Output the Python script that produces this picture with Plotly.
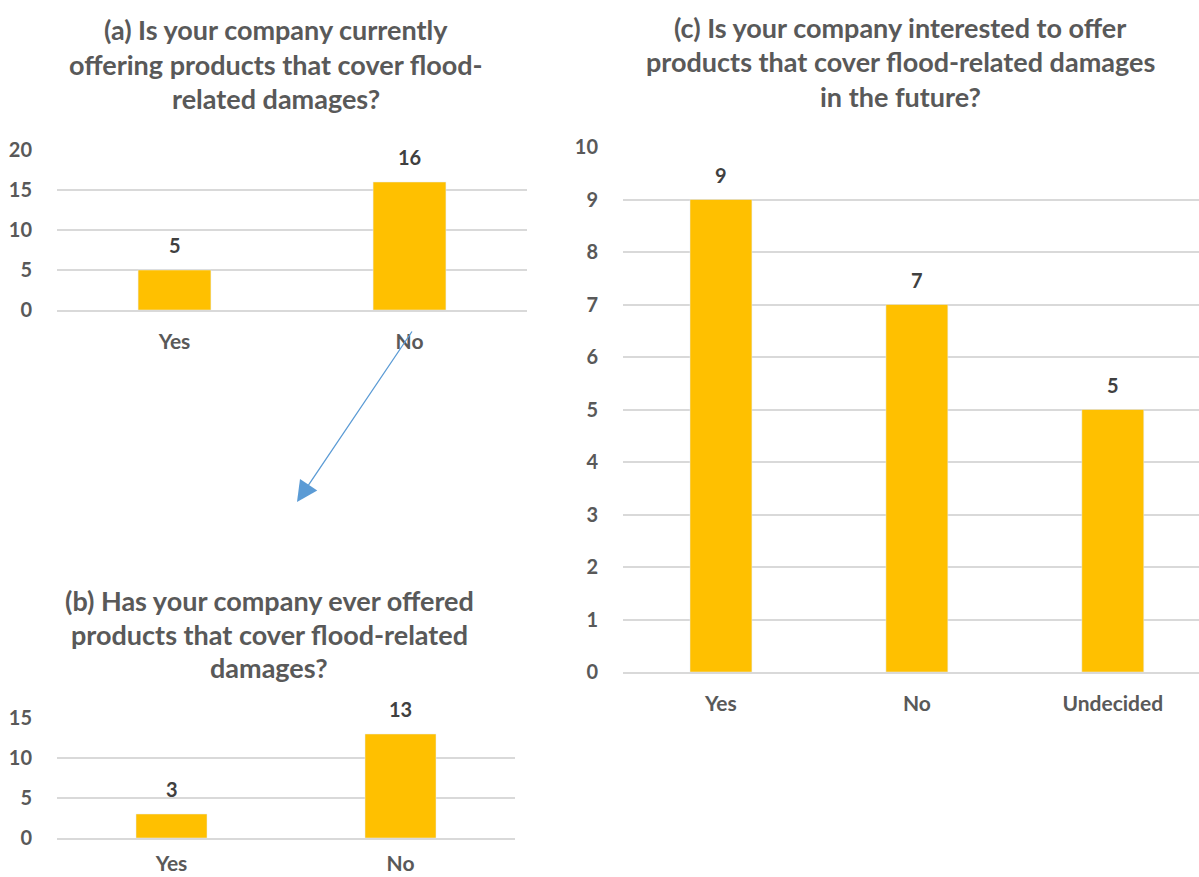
import plotly.graph_objects as go

# ---- data ----
cats_a = ["Yes", "No"]
vals_a = [5, 16]
cats_b = ["Yes", "No"]
vals_b = [3, 13]
cats_c = ["Yes", "No", "Undecided"]
vals_c = [9, 7, 5]

title_a = ["(a) Is your company currently", "offering products that cover flood-", "related damages?"]
title_b = ["(b) Has your company ever offered", "products that cover flood-related", "damages?"]
title_c = ["(c) Is your company interested to offer", "products that cover flood-related damages", "in the future?"]

W, H = 1199, 877
FONT = "Lato"
BAR = "#FFC000"
GRID = "#D9D9D9"
TXT = "#595959"
LBL = "#404040"

def px(x):
    return x / W

def py(y):
    return 1 - y / H

fig = go.Figure()
fig.add_trace(go.Bar(x=cats_a, y=vals_a, marker_color=BAR, width=0.31, xaxis="x", yaxis="y"))
fig.add_trace(go.Bar(x=cats_b, y=vals_b, marker_color=BAR, width=0.31, xaxis="x2", yaxis="y2"))
fig.add_trace(go.Bar(x=cats_c, y=vals_c, marker_color=BAR, width=0.316, xaxis="x3", yaxis="y3"))

ytickfont = dict(family=FONT, size=20, color=TXT, weight="bold")
xtickfont = dict(family=FONT, size=21, color=TXT, weight="bold")

def yax(dom, rng, dtick, anchor):
    return dict(domain=dom, range=rng, dtick=dtick, showgrid=True, gridcolor=GRID, gridwidth=1.5,
                zeroline=False, showline=False, ticks="outside", ticklen=20, tickcolor="rgba(0,0,0,0)",
                tickfont=ytickfont, anchor=anchor, fixedrange=True, automargin=False)

def xax(dom, anchor, rng=None, ticklen=13):
    d = dict(domain=dom, anchor=anchor, showgrid=False, zeroline=False, showline=True,
             linecolor=GRID, linewidth=1.5, ticks="outside", ticklen=ticklen,
             tickcolor="rgba(0,0,0,0)", tickfont=xtickfont, fixedrange=True, automargin=False)
    if rng is not None:
        d["range"] = rng
    return d

fig.update_layout(
    width=W, height=H, margin=dict(l=0, r=0, t=0, b=0, autoexpand=False),
    paper_bgcolor="white", plot_bgcolor="white", showlegend=False,
    xaxis=xax([px(57), px(527)], "y", ticklen=12),
    yaxis=yax([py(310), py(150)], [0, 20], 5, "x"),
    xaxis2=xax([px(57), px(515)], "y2", ticklen=6),
    yaxis2=yax([py(838), py(718)], [0, 15], 5, "x2"),
    xaxis3=xax([px(623), 1.0], "y3", rng=[-0.5, 2.44], ticklen=12),
    yaxis3=yax([py(672), py(147)], [0, 10], 1, "x3"),
)

ann = []
# titles
for lines, cx, ys in [(title_a, 276, [30, 64, 98]), (title_b, 269, [600, 634, 667]), (title_c, 900, [27, 62, 97])]:
    for t, yy in zip(lines, ys):
        ann.append(dict(text=t, x=px(cx), y=py(yy), xref="paper", yref="paper", xanchor="center",
                        yanchor="middle", showarrow=False,
                        font=dict(family=FONT, size=27, color=TXT, weight="bold")))
# data labels
for cats, vals, xr, yr in [(cats_a, vals_a, "x", "y"), (cats_b, vals_b, "x2", "y2"), (cats_c, vals_c, "x3", "y3")]:
    for c, v in zip(cats, vals):
        ann.append(dict(text=str(v), x=c, y=v, xref=xr, yref=yr, yshift=25, yanchor="middle",
                        showarrow=False, font=dict(family=FONT, size=20, color=LBL, weight="bold")))
# arrow
ann.append(dict(x=px(297), y=py(502), xref="paper", yref="paper", ax=116, ay=-172,
                axref="pixel", ayref="pixel", text="", showarrow=True, arrowhead=2,
                arrowsize=3.2, arrowwidth=1.3, arrowcolor="#5B9BD5"))
fig.update_layout(annotations=ann)

fig.write_html("out.html")
